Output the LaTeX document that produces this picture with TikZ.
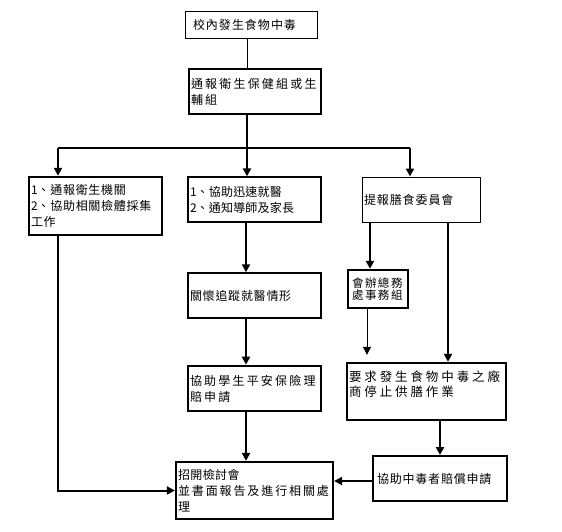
\documentclass[tikz,border=0pt]{standalone}
\usepackage{fontspec}
\setmainfont{Noto Sans CJK TC}
\usetikzlibrary{arrows.meta}
\newlength\chw
\def\chloop#1{\ifx#1\relax\else\makebox[\chw][l]{#1}\expandafter\chloop\fi}
\newcommand\spch[2]{\setlength\chw{#1}\chloop#2\relax}
\tikzset{
  box/.style={draw, rectangle, inner xsep=2pt, inner ysep=0pt, align=left,
    font=\fontsize{12}{16}\selectfont},
  conn/.style={line width=2pt, -{Triangle[length=8pt,width=8pt]}},
  connthin/.style={line width=1pt, -{Triangle[length=8pt,width=8pt]}},
}
\begin{document}
\begin{tikzpicture}[x=1pt,y=-1pt]
\useasboundingbox (0,0) rectangle (562,531);
% boxes
\node[box, line width=1pt, minimum width=132pt, minimum height=27pt, inner xsep=8pt, text width=116pt] (b1) at (251,24.5) {\raisebox{-3.5pt}{\spch{13pt}{校內發生食物中毒}}};
\node[box, line width=2.6pt, minimum width=132pt, minimum height=45pt, text width=128pt] (b2) at (255,91.5) {\spch{14.2pt}{通報衛生保健組或生}\\\spch{14.2pt}{輔組}};
\node[box, line width=2.4pt, minimum width=133pt, minimum height=58pt, text width=129pt] (b3) at (95.5,206) {1\spch{12.7pt}{、通報衛生機關}\\2\spch{12.7pt}{、協助相關檢體採集}\\\spch{12.7pt}{工作}};
\node[box, line width=1.3pt, minimum width=133pt, minimum height=45pt, text width=129pt] (b4) at (254.5,199.5) {1\spch{12.2pt}{、協助迅速就醫}\\2\spch{12.2pt}{、通知導師及家長}};
\node[box, line width=1pt, minimum width=118pt, minimum height=45pt, text width=114pt] (b5) at (421,199.5) {\spch{12.9pt}{提報膳食委員會}};
\node[box, line width=1.5pt, minimum width=133pt, minimum height=45pt, text width=129pt] (b6) at (254.5,295.5) {\spch{12.75pt}{關懷追蹤就醫情形}};
\node[box, line width=2.6pt, minimum width=133pt, minimum height=45pt, text width=129pt] (b7) at (254.5,388.5) {\spch{14.2pt}{協助學生平安保險理}\\\spch{14.2pt}{賠申請}};
\node[box, line width=2.4pt, minimum width=60pt, minimum height=38pt, text width=56pt, align=center, font=\fontsize{11.5}{12.5}\selectfont] (b8) at (378,289) {\spch{13pt}{會辦總務}\\\spch{13pt}{處事務組}};
\node[box, line width=2.4pt, minimum width=159pt, minimum height=57pt, text width=155pt, font=\fontsize{12.5}{15}\selectfont] (b9) at (426.5,391.5) {\spch{15.4pt}{要求發生食物中毒之廠}\\\spch{15.4pt}{商停止供膳作業}\\\mbox{}};
\node[box, line width=2pt, minimum width=134pt, minimum height=45pt, inner xsep=4pt, text width=126pt] (b10) at (440,478.5) {\spch{12.8pt}{協助中毒者賠償申請}};
\node[box, line width=2.2pt, minimum width=157pt, minimum height=57pt, text width=153pt] (b11) at (254.5,490.5) {\spch{12.4pt}{招開檢討會}\\\spch{13.9pt}{並書面報告及進行相關處}\\\spch{13.9pt}{理}};
% helper coordinates
\coordinate (j) at (247,148);
\coordinate (jl) at (58,148);
\coordinate (jr) at (410,148);
\coordinate (xm) at (246,0);
\coordinate (x8) at (370,0);
\coordinate (x89) at (367,0);
\coordinate (x59) at (448,0);
% connectors
\draw[line width=1pt] (b1.south -| j) -- (b2.north -| j);
\draw[line width=2pt] (b2.south -| j) -- (j);
\draw[line width=1.5pt] (jl) -- (jr);
\draw[conn] (jl) -- (jl |- b3.north);
\draw[conn] (j) -- (j |- b4.north);
\draw[conn] (jr) -- (jr |- b5.north);
\draw[conn] (jl |- b3.south) -- (jl |- b11.west) -- (b11.west);
\draw[conn] (b4.south -| xm) -- (b6.north -| xm);
\draw[conn] (b6.south -| xm) -- (b7.north -| xm);
\draw[conn] (b7.south -| xm) -- (b11.north -| xm);
\draw[conn] (b5.south -| x8) -- (b8.north -| x8);
\draw[connthin, shorten >=7pt] (b8.south -| x89) -- (b9.north -| x89);
\draw[conn] (b5.south -| x59) -- (b9.north -| x59);
\draw[conn] (b9.south -| b10.north) -- (b10.north);
\draw[conn] ([yshift=-2.5pt]b10.west) -- ([yshift=-2.5pt]b10.west -| b11.east);
\end{tikzpicture}
\end{document}
